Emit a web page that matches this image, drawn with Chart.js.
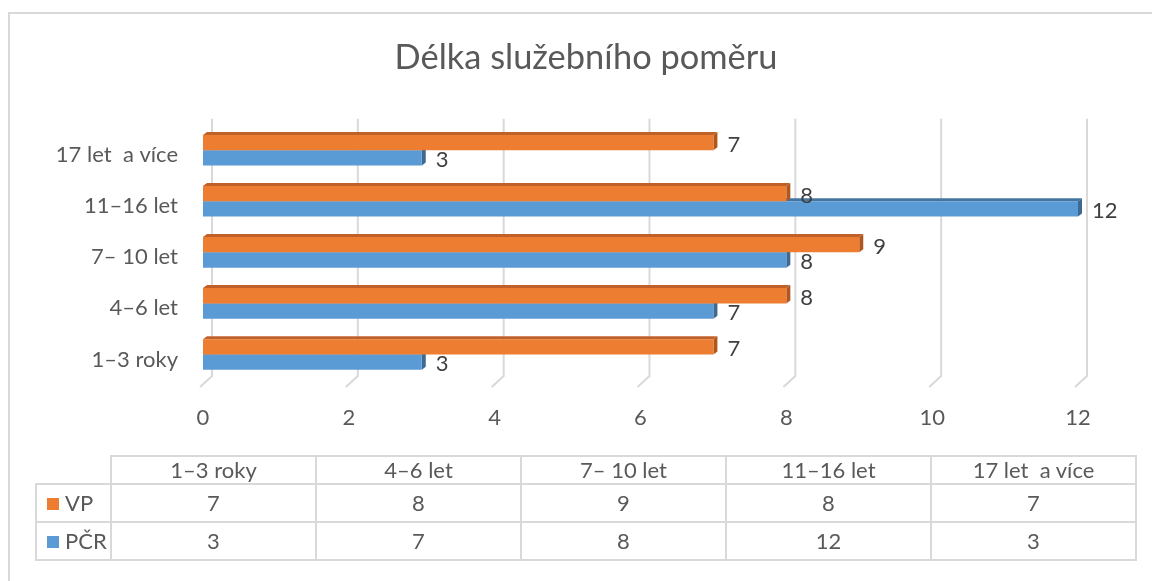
<!DOCTYPE html>
<html lang="cs">
<head>
<meta charset="utf-8">
<title>Délka služebního poměru</title>
<script src="https://cdn.jsdelivr.net/npm/chart.js@4"></script>
<style>
  html, body { margin: 0; padding: 0; background: #fff; }
  body { width: 1152px; height: 581px; overflow: hidden; position: relative; font-family: Lato, "Open Sans", sans-serif; }
  #frame { position: absolute; left: 8px; top: 12px; width: 1200px; height: 620px;
           border-left: 2px solid #d9d9d9; border-top: 2px solid #d9d9d9; }
  #wrap { position: absolute; left: 0; top: 0; width: 1152px; height: 581px; }
  #dataTable { position: absolute; left: 35px; top: 455px; border-collapse: collapse; table-layout: fixed;
               color: #595959; font-size: 22px; }
  #dataTable td { border: 2px solid #d9d9d9; text-align: center; white-space: pre; padding: 0; line-height: 1; }
  #dataTable td.blank { border: none; }
  #dataTable tr.head td { height: 26px; }
  #dataTable tr.row td { height: 36px; }
  #dataTable td.key { text-align: left; padding-left: 10px; }
  .swatch { display: inline-block; width: 12px; height: 12px; margin-right: 6px; vertical-align: 1px; }
</style>
</head>
<body>
<div id="frame"></div>
<div id="wrap"><canvas id="chart"></canvas></div>
<table id="dataTable"></table>
<script>
// données
const categories = ["1–3 roky", "4–6 let", "7– 10 let", "11–16 let", "17 let  a více"];
const seriesNames = ["VP", "PČR"];
const vpValues = [7, 8, 9, 8, 7];
const pcrValues = [3, 7, 8, 12, 3];
const axisMin = 0, axisMax = 12, axisStep = 2;

const FONT = "Lato, 'Open Sans', sans-serif";
const TEXT = "#595959";
const fills = ["#ed7d31", "#5b9bd5"];
const shades = [
    { top: "#c0612a", side: "#b0561f" },
    { top: "#44749f", side: "#3d6993" }
];
const DX = 4, DY = 3;

// faux 3D : grille du fond + faces haut / côté des barres
const depthPlugin = {
    id: "depth",
    beforeDatasetsDraw(chart) {
        const { ctx, chartArea, scales: { x } } = chart;
        ctx.save();
        ctx.strokeStyle = "#d9d9d9";
        ctx.lineWidth = 2;
        x.ticks.forEach(t => {
            const px = x.getPixelForValue(t.value) + 9;
            ctx.beginPath();
            ctx.moveTo(px, chartArea.top - 6);
            ctx.lineTo(px, chartArea.bottom - 4);
            ctx.lineTo(px - 12, chartArea.bottom + 7);
            ctx.stroke();
        });
        for (let i = chart.data.datasets.length - 1; i >= 0; i--) {
            const meta = chart.getDatasetMeta(i);
            const sh = shades[i];
            meta.data.forEach(bar => {
                const { x: end, y, base, height } = bar.getProps(["x", "y", "base", "height"], true);
                const top = y - height / 2, bottom = y + height / 2;
                ctx.fillStyle = sh.top;
                ctx.beginPath();
                ctx.moveTo(base, top);
                ctx.lineTo(end, top);
                ctx.lineTo(end + DX, top - DY);
                ctx.lineTo(base + DX, top - DY);
                ctx.closePath();
                ctx.fill();
                ctx.fillStyle = sh.side;
                ctx.beginPath();
                ctx.moveTo(end, top);
                ctx.lineTo(end + DX, top - DY);
                ctx.lineTo(end + DX, bottom - DY);
                ctx.lineTo(end, bottom);
                ctx.closePath();
                ctx.fill();
            });
        }
        ctx.restore();
    },
    afterDatasetsDraw(chart) {
        const { ctx } = chart;
        ctx.save();
        ctx.font = "22px " + FONT;
        ctx.fillStyle = "#404040";
        ctx.textAlign = "left";
        ctx.textBaseline = "middle";
        chart.data.datasets.forEach((ds, i) => {
            chart.getDatasetMeta(i).data.forEach((bar, j) => {
                ctx.fillText(String(ds.data[j]), bar.x + 14, bar.y + 2);
            });
        });
        ctx.restore();
    }
};

new Chart(document.getElementById("chart"), {
    type: "bar",
    data: {
        labels: categories,
        datasets: [
            { label: seriesNames[0], data: vpValues, backgroundColor: fills[0] },
            { label: seriesNames[1], data: pcrValues, backgroundColor: fills[1] }
        ]
    },
    options: {
        indexAxis: "y",
        responsive: true,
        maintainAspectRatio: false,
        animation: false,
        categoryPercentage: 0.6,
        barPercentage: 1,
        layout: { padding: { top: 14, left: 30, right: 10, bottom: 150 } },
        plugins: {
            legend: { display: false },
            tooltip: { enabled: false },
            title: {
                display: true,
                text: "Délka služebního poměru",
                color: TEXT,
                font: { family: FONT, size: 34.4, weight: 400 },
                padding: { top: 23.4, bottom: 46 }
            }
        },
        scales: {
            x: {
                min: axisMin,
                max: axisMax,
                ticks: { stepSize: axisStep, padding: 25, color: TEXT, font: { family: FONT, size: 22 } },
                grid: { display: false, drawTicks: false },
                border: { display: false },
                afterFit(s) { s.height = 51; }
            },
            y: {
                reverse: true,
                ticks: { padding: 25, labelOffset: 5, color: TEXT, font: { family: FONT, size: 22 } },
                grid: { display: false, drawTicks: false },
                border: { display: false },
                afterFit(s) { s.width = 173; }
            },
            // axe vide à droite : garde la place des étiquettes sans décaler le titre
            yRight: {
                axis: "y",
                position: "right",
                ticks: { display: false },
                grid: { display: false, drawTicks: false },
                border: { display: false },
                afterFit(s) { s.width = 64; }
            }
        }
    },
    plugins: [depthPlugin]
});

// tableau de données sous le graphique
const table = document.getElementById("dataTable");
const cols = document.createElement("colgroup");
cols.innerHTML = '<col style="width:75px">' + categories.map(() => '<col style="width:205px">').join("");
table.appendChild(cols);
const head = table.insertRow();
head.className = "head";
head.insertCell().className = "blank";
categories.forEach(c => { head.insertCell().textContent = c; });
[vpValues, pcrValues].forEach((vals, i) => {
    const row = table.insertRow();
    row.className = "row";
    const key = row.insertCell();
    key.className = "key";
    key.innerHTML = '<span class="swatch" style="background:' + fills[i] + '"></span>' + seriesNames[i];
    vals.forEach(v => { row.insertCell().textContent = v; });
});
</script>
</body>
</html>
